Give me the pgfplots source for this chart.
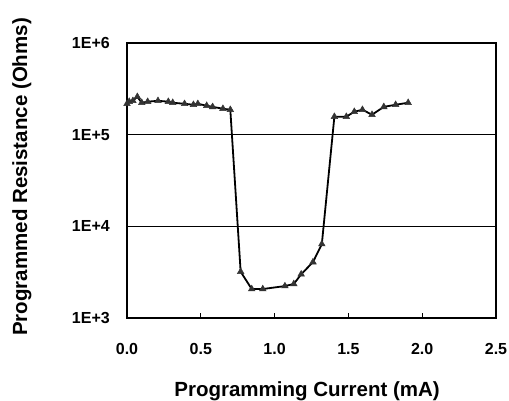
\documentclass[border=0pt]{standalone}
\usepackage{fontspec}
\setmainfont{Liberation Sans}
\usepackage{pgfplots}
\pgfplotsset{compat=1.18}
\begin{document}
\begin{tikzpicture}
\begin{axis}[
 at={(0,0)}, anchor=south west,
 scale only axis, width=369bp, height=275bp,
 xmin=0, xmax=2.5, ymode=log, ymin=1e3, ymax=1e6,
 xtick={0,0.5,1,1.5,2,2.5}, xticklabels={0.0,0.5,1.0,1.5,2.0,2.5},
 ytick={1e3,1e4,1e5,1e6}, yticklabels={1E+3,1E+4,1E+5,1E+6},
 yminorticks=false, ymajorgrids,
 grid style={black, line width=1.2bp},
 axis line style={black, line width=1.5bp},
 tick align=inside, xtick pos=bottom, ytick pos=left,
 xtick style={black, line width=1.1bp}, major tick length=5bp,
 ytick style={draw=none},
 ticklabel style={font=\bfseries\fontsize{16bp}{18bp}\selectfont},
 label style={font=\bfseries\fontsize{20.5bp}{24bp}\selectfont},
 xlabel={Programming Current (mA)}, ylabel={Programmed Resistance (Ohms)},
 xlabel style={at={(axis description cs:0.488,-0.287)}, anchor=base},
 ylabel style={at={(axis description cs:-0.2846,0.513)}, anchor=center},
 xticklabel style={anchor=north, inner sep=0pt, yshift=-25bp},
 yticklabel style={anchor=east, inner sep=0pt, xshift=-17bp},
]
\addplot[black, line width=1.8bp, mark=triangle*, mark size=3.8bp,
  mark options={fill=black!80, draw=black!80, line width=0.5bp}] coordinates {
(0.0,2.17e5) (0.015,2.29e5) (0.04,2.34e5) (0.07,2.59e5) (0.10,2.23e5)
(0.14,2.29e5) (0.21,2.34e5) (0.28,2.29e5) (0.31,2.23e5) (0.39,2.17e5)
(0.45,2.12e5) (0.48,2.17e5) (0.54,2.07e5) (0.58,2.01e5) (0.65,1.92e5)
(0.70,1.87e5) (0.77,3.2e3) (0.845,2.07e3) (0.92,2.07e3) (1.07,2.23e3)
(1.13,2.35e3) (1.18,3.0e3) (1.26,4.07e3) (1.32,6.4e3) (1.405,1.57e5)
(1.486,1.57e5) (1.54,1.78e5) (1.595,1.87e5) (1.66,1.65e5) (1.74,2.01e5)
(1.82,2.12e5) (1.905,2.23e5)
};
\end{axis}
\pgfresetboundingbox
\path[use as bounding box] (-127bp,-83bp) rectangle (382bp,318bp);
\end{tikzpicture}
\end{document}
